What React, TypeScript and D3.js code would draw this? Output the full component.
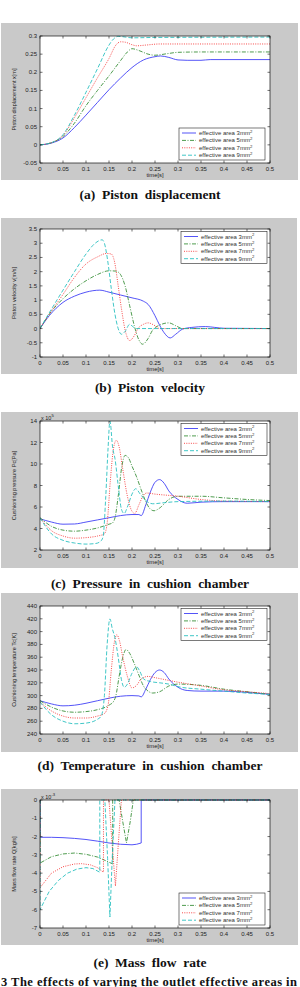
import * as d3 from 'd3';

type Pt = [number, number];

// legend keys: outlet effective area in mm^2
const areas = [3, 5, 7, 9];
const timeTicks = [0, 0.05, 0.1, 0.15, 0.2, 0.25, 0.3, 0.35, 0.4, 0.45, 0.5];

// (a) piston displacement x [m]
const dispTicks = [-0.05, 0, 0.05, 0.1, 0.15, 0.2, 0.25, 0.3];
const disp3: Pt[] = [[0, 0], [0.025, 0.005], [0.05, 0.019], [0.075, 0.048], [0.1, 0.082], [0.125, 0.117], [0.15, 0.152], [0.175, 0.184], [0.2, 0.213], [0.225, 0.234], [0.25, 0.243], [0.262, 0.245], [0.28, 0.241], [0.3, 0.234], [0.32, 0.233], [0.35, 0.233], [0.37, 0.235], [0.5, 0.235]];
const disp5: Pt[] = [[0, 0], [0.025, 0.006], [0.05, 0.023], [0.075, 0.06], [0.1, 0.108], [0.125, 0.15], [0.15, 0.19], [0.175, 0.232], [0.19, 0.256], [0.2, 0.265], [0.215, 0.26], [0.235, 0.25], [0.25, 0.247], [0.275, 0.251], [0.3, 0.255], [0.35, 0.256], [0.5, 0.256]];
const disp7: Pt[] = [[0, 0], [0.025, 0.006], [0.05, 0.026], [0.075, 0.075], [0.1, 0.13], [0.125, 0.185], [0.15, 0.238], [0.165, 0.275], [0.175, 0.284], [0.185, 0.283], [0.2, 0.276], [0.21, 0.273], [0.23, 0.275], [0.26, 0.278], [0.5, 0.278]];
const disp9: Pt[] = [[0, 0], [0.025, 0.006], [0.05, 0.028], [0.075, 0.082], [0.1, 0.145], [0.125, 0.21], [0.15, 0.275], [0.16, 0.292], [0.17, 0.299], [0.18, 0.298], [0.2, 0.295], [0.25, 0.296], [0.5, 0.297]];

// (b) piston velocity v [m/s]
const velTicks = [-1, -0.5, 0, 0.5, 1, 1.5, 2, 2.5, 3, 3.5];
const vel3: Pt[] = [[0, 0], [0.02, 0.45], [0.05, 0.92], [0.075, 1.14], [0.1, 1.28], [0.13, 1.35], [0.15, 1.28], [0.175, 1.18], [0.2, 1.08], [0.225, 0.96], [0.235, 0.85], [0.25, 0.45], [0.26, 0.12], [0.27, -0.15], [0.283, -0.33], [0.295, -0.2], [0.31, -0.02], [0.33, 0.04], [0.36, 0.07], [0.38, 0.04], [0.4, 0.01], [0.5, 0]];
const vel5: Pt[] = [[0, 0], [0.02, 0.5], [0.05, 1.05], [0.075, 1.4], [0.1, 1.68], [0.125, 1.9], [0.15, 2.03], [0.165, 2.02], [0.175, 1.9], [0.185, 1.5], [0.195, 0.8], [0.205, 0.1], [0.215, -0.4], [0.223, -0.55], [0.235, -0.35], [0.245, -0.05], [0.26, 0.12], [0.28, 0.2], [0.295, 0.1], [0.31, 0], [0.5, 0]];
const vel7: Pt[] = [[0, 0], [0.02, 0.5], [0.05, 1.2], [0.075, 1.8], [0.1, 2.27], [0.125, 2.52], [0.145, 2.64], [0.155, 2.62], [0.162, 2.35], [0.17, 1.5], [0.178, 0.6], [0.185, -0.05], [0.195, -0.42], [0.205, -0.25], [0.213, 0], [0.225, 0.15], [0.235, 0.2], [0.25, 0.1], [0.26, 0], [0.5, 0]];
const vel9: Pt[] = [[0, 0], [0.02, 0.55], [0.05, 1.35], [0.075, 2.0], [0.1, 2.62], [0.12, 3.0], [0.135, 3.12], [0.14, 3.0], [0.147, 2.4], [0.155, 1.4], [0.163, 0.5], [0.17, 0], [0.177, -0.2], [0.185, -0.1], [0.195, 0.15], [0.203, 0.05], [0.21, 0], [0.5, 0]];

// (c) cushion chamber pressure Pc [x 10^5 Pa]
const presTicks = [2, 4, 6, 8, 10, 12, 14];
const pres3: Pt[] = [[0, 4.9], [0.025, 4.6], [0.05, 4.4], [0.075, 4.42], [0.1, 4.6], [0.125, 4.8], [0.15, 5.0], [0.175, 5.2], [0.2, 5.3], [0.215, 5.3], [0.22, 5.2], [0.23, 6.2], [0.24, 7.4], [0.25, 8.3], [0.26, 8.55], [0.27, 8.2], [0.28, 7.5], [0.3, 6.7], [0.32, 6.35], [0.35, 6.45], [0.4, 6.5], [0.5, 6.5]];
const pres5: Pt[] = [[0, 5.0], [0.025, 4.2], [0.05, 3.85], [0.075, 3.75], [0.1, 3.85], [0.125, 4.05], [0.15, 4.4], [0.157, 4.5], [0.163, 5.0], [0.17, 7.0], [0.178, 9.8], [0.185, 10.8], [0.192, 10.6], [0.2, 9.8], [0.21, 8.8], [0.22, 7.6], [0.23, 6.5], [0.24, 5.8], [0.248, 5.65], [0.26, 5.9], [0.28, 6.7], [0.3, 7.0], [0.35, 7.0], [0.4, 6.85], [0.45, 6.7], [0.5, 6.6]];
const pres7: Pt[] = [[0, 5.0], [0.025, 3.8], [0.05, 3.3], [0.075, 3.1], [0.1, 3.15], [0.125, 3.3], [0.14, 3.5], [0.146, 4.5], [0.153, 8.5], [0.16, 11.5], [0.166, 12.2], [0.172, 11.6], [0.18, 9.5], [0.19, 7.0], [0.2, 5.6], [0.206, 5.4], [0.215, 6.2], [0.225, 7.1], [0.232, 7.3], [0.25, 7.2], [0.3, 7.0], [0.35, 6.7], [0.4, 6.55], [0.5, 6.5]];
const pres9: Pt[] = [[0, 5.0], [0.025, 3.5], [0.05, 2.9], [0.075, 2.65], [0.1, 2.55], [0.12, 2.6], [0.13, 2.75], [0.137, 3.2], [0.143, 7.0], [0.148, 11.5], [0.152, 14.0], [0.158, 11.5], [0.163, 10.5], [0.17, 8.0], [0.177, 5.8], [0.183, 5.4], [0.19, 6.0], [0.2, 7.2], [0.208, 7.7], [0.218, 7.2], [0.23, 6.6], [0.245, 6.3], [0.27, 6.4], [0.3, 6.5], [0.4, 6.55], [0.5, 6.5]];

// (d) cushion chamber temperature Tc [K]
const tempTicks = [240, 260, 280, 300, 320, 340, 360, 380, 400, 420, 440];
const temp3: Pt[] = [[0, 292], [0.025, 287], [0.05, 284], [0.075, 285], [0.1, 288], [0.125, 292], [0.15, 296], [0.175, 299], [0.2, 300], [0.215, 299.5], [0.22, 298], [0.23, 310], [0.24, 325], [0.25, 336], [0.26, 340], [0.27, 336], [0.28, 326], [0.3, 313], [0.32, 308], [0.35, 307], [0.4, 307], [0.45, 305], [0.5, 302]];
const temp5: Pt[] = [[0, 292], [0.025, 282], [0.05, 276], [0.075, 274], [0.1, 275], [0.125, 278], [0.15, 285], [0.16, 291], [0.165, 300], [0.172, 330], [0.18, 360], [0.187, 372], [0.195, 366], [0.205, 350], [0.215, 332], [0.225, 315], [0.235, 307], [0.245, 304], [0.26, 306], [0.28, 315], [0.3, 318], [0.35, 316], [0.4, 310], [0.45, 306], [0.5, 302]];
const temp7: Pt[] = [[0, 290], [0.025, 276], [0.05, 268], [0.075, 265], [0.1, 265], [0.125, 268], [0.14, 272], [0.148, 285], [0.155, 340], [0.162, 385], [0.167, 395], [0.173, 385], [0.18, 360], [0.19, 330], [0.2, 312], [0.21, 316], [0.22, 326], [0.235, 330], [0.25, 328], [0.3, 321], [0.35, 315], [0.4, 309], [0.45, 306], [0.5, 303]];
const temp9: Pt[] = [[0, 290], [0.025, 270], [0.05, 260], [0.075, 256], [0.1, 257], [0.125, 263], [0.133, 268], [0.14, 300], [0.146, 380], [0.152, 420], [0.157, 405], [0.163, 390], [0.17, 360], [0.177, 325], [0.183, 313], [0.19, 318], [0.2, 335], [0.21, 345], [0.217, 338], [0.225, 326], [0.24, 322], [0.26, 320], [0.28, 318], [0.3, 314], [0.35, 310], [0.4, 307], [0.45, 304], [0.5, 302]];

// (e) mass flow rate Q [x 10^-3 kg/s]
const flowTicks = [-7, -6, -5, -4, -3, -2, -1, 0];
const flow3: Pt[] = [[0, 0], [0, -2.04], [0.025, -2.04], [0.05, -2.06], [0.075, -2.1], [0.1, -2.16], [0.125, -2.25], [0.15, -2.35], [0.175, -2.42], [0.2, -2.45], [0.21, -2.42], [0.22, -2.35], [0.22, 0], [0.5, 0]];
const flow5: Pt[] = [[0, 0], [0, -3.45], [0.025, -3.1], [0.05, -2.95], [0.075, -2.9], [0.1, -2.97], [0.125, -3.12], [0.15, -3.4], [0.158, -3.5], [0.158, 0], [0.172, 0], [0.18, -1.2], [0.188, -2.35], [0.196, -1.2], [0.203, 0], [0.5, 0]];
const flow7: Pt[] = [[0, 0], [0, -4.8], [0.025, -4.0], [0.05, -3.65], [0.075, -3.5], [0.09, -3.48], [0.11, -3.55], [0.125, -3.7], [0.138, -3.95], [0.138, 0], [0.15, 0], [0.157, -2.5], [0.164, -4.7], [0.17, -2.5], [0.177, 0], [0.5, 0]];
const flow9: Pt[] = [[0, 0], [0, -6.0], [0.02, -5.0], [0.04, -4.4], [0.06, -4.0], [0.08, -3.78], [0.1, -3.7], [0.115, -3.75], [0.13, -3.95], [0.13, 0], [0.141, 0], [0.147, -3.2], [0.152, -6.4], [0.157, -3.2], [0.163, 0], [0.5, 0]];

const lineColors = ['#3535f5', '#2f8a2f', '#f52a2a', '#1fbdbd'];
const lineDash = ['none', '4,1.5,1,1.5', '1,1.3', '4,2'];

const W = 300;
const H = 987;
const tickFont = '"Liberation Sans", Arial, sans-serif';
const captionFont = '"Liberation Serif", "Times New Roman", serif';

interface Box { x0: number; x1: number; y0: number; y1: number }

interface PanelProps {
  id: string;
  frame: Box;
  plot: Box;
  yTicks: number[];
  series: Pt[][];
  yLabel: string;
  exponent?: string;
  legendAt: 'top' | 'bottom';
  curve: d3.CurveFactory;
}

function Panel({ id, frame, plot, yTicks, series, yLabel, exponent, legendAt, curve }: PanelProps) {
  const x = d3.scaleLinear().domain([0, 0.5]).range([plot.x0, plot.x1]);
  const y = d3
    .scaleLinear()
    .domain([yTicks[0], yTicks[yTicks.length - 1]])
    .range([plot.y1, plot.y0]);

  const line = d3
    .line<Pt>()
    .x((d) => x(d[0]))
    .y((d) => y(d[1]))
    .curve(curve);

  const tick = 2.5;
  const lg = legendAt === 'top'
    ? { x: plot.x1 - 89, y: plot.y0 + 2.5 }
    : { x: plot.x1 - 91, y: plot.y1 - 35 };
  const lgW = 86;
  const lgH = 32;
  const midY = (plot.y0 + plot.y1) / 2;

  return (
    <g>
      <defs>
        <clipPath id={`clip-${id}`}>
          <rect x={plot.x0} y={plot.y0 - 1} width={plot.x1 - plot.x0} height={plot.y1 - plot.y0 + 2} />
        </clipPath>
      </defs>
      <rect x={frame.x0} y={frame.y0} width={frame.x1 - frame.x0} height={frame.y1 - frame.y0} fill="#c9c9c9" />
      <rect x={plot.x0} y={plot.y0} width={plot.x1 - plot.x0} height={plot.y1 - plot.y0} fill="#ffffff" />

      <g clipPath={`url(#clip-${id})`}>
        {series.map((s, i) => (
          <path
            key={i}
            d={line(s) ?? ''}
            fill="none"
            stroke={lineColors[i]}
            strokeWidth={0.85}
            strokeDasharray={lineDash[i]}
          />
        ))}
      </g>

      <rect
        x={plot.x0}
        y={plot.y0}
        width={plot.x1 - plot.x0}
        height={plot.y1 - plot.y0}
        fill="none"
        stroke="#111"
        strokeWidth={0.7}
      />

      {/* ticks point inward on all four sides */}
      <g stroke="#111" strokeWidth={0.6}>
        {timeTicks.map((t) => (
          <g key={`xt${t}`}>
            <line x1={x(t)} x2={x(t)} y1={plot.y1} y2={plot.y1 - tick} />
            <line x1={x(t)} x2={x(t)} y1={plot.y0} y2={plot.y0 + tick} />
          </g>
        ))}
        {yTicks.map((v) => (
          <g key={`yt${v}`}>
            <line x1={plot.x0} x2={plot.x0 + tick} y1={y(v)} y2={y(v)} />
            <line x1={plot.x1} x2={plot.x1 - tick} y1={y(v)} y2={y(v)} />
          </g>
        ))}
      </g>

      <g fontFamily={tickFont} fontSize={6} fill="#222">
        {timeTicks.map((t) => (
          <text key={`xl${t}`} x={x(t)} y={plot.y1 + 7.5} textAnchor="middle">
            {String(t)}
          </text>
        ))}
        {yTicks.map((v) => (
          <text key={`yl${v}`} x={plot.x0 - 3} y={y(v) + 2} textAnchor="end">
            {String(v)}
          </text>
        ))}
        <text x={(plot.x0 + plot.x1) / 2} y={plot.y1 + 14} textAnchor="middle" fontSize={5.8}>
          time[s]
        </text>
        <text
          x={0}
          y={0}
          transform={`translate(16,${midY}) rotate(-90)`}
          textAnchor="middle"
          fontSize={5.6}
        >
          {yLabel}
        </text>
        {exponent && (
          <text x={plot.x0 + 1} y={plot.y0 - 1.5} fontSize={5.5}>
            x 10
            <tspan dy={-2.2} fontSize={4.2}>{exponent}</tspan>
          </text>
        )}
      </g>

      <g>
        <rect x={lg.x} y={lg.y} width={lgW} height={lgH} fill="#fff" stroke="#222" strokeWidth={0.6} />
        {areas.map((a, i) => {
          const ry = lg.y + 5 + i * 7.4;
          return (
            <g key={a}>
              <line
                x1={lg.x + 3}
                x2={lg.x + 17}
                y1={ry}
                y2={ry}
                stroke={lineColors[i]}
                strokeWidth={0.85}
                strokeDasharray={lineDash[i]}
              />
              <text x={lg.x + 20} y={ry + 2} fontFamily={tickFont} fontSize={6} fill="#333">
                {`effective area ${a}mm`}
                <tspan dy={-2.3} fontSize={4.3}>2</tspan>
              </text>
            </g>
          );
        })}
      </g>
    </g>
  );
}

const captions: [string, number][] = [
  ['(a)  Piston  displacement', 199],
  ['(b)  Piston  velocity', 392],
  ['(c)  Pressure  in  cushion  chamber', 588],
  ['(d)  Temperature  in  cushion  chamber', 770],
  ['(e)  Mass  flow  rate', 967],
];

export default function App() {
  const px0 = 40;
  const px1 = 270;
  return (
    <svg
      width={W}
      height={H}
      viewBox={`0 0 ${W} ${H}`}
      style={{ position: 'absolute', left: 0, top: 0, display: 'block', background: '#fff' }}
    >
      <Panel
        id="disp"
        frame={{ x0: 1, x1: 298, y0: 23, y1: 180 }}
        plot={{ x0: px0, x1: px1, y0: 36, y1: 163 }}
        yTicks={dispTicks}
        series={[disp3, disp5, disp7, disp9]}
        yLabel="Piston displacement x[m]"
        legendAt="bottom"
        curve={d3.curveMonotoneX}
      />
      <Panel
        id="vel"
        frame={{ x0: 1, x1: 297, y0: 218, y1: 374 }}
        plot={{ x0: px0, x1: px1, y0: 229, y1: 357 }}
        yTicks={velTicks}
        series={[vel3, vel5, vel7, vel9]}
        yLabel="Piston velocity v[m/s]"
        legendAt="top"
        curve={d3.curveMonotoneX}
      />
      <Panel
        id="pres"
        frame={{ x0: 1, x1: 298, y0: 412, y1: 568 }}
        plot={{ x0: px0, x1: px1, y0: 421, y1: 550 }}
        yTicks={presTicks}
        series={[pres3, pres5, pres7, pres9]}
        yLabel="Cushioning pressure Pc[Pa]"
        exponent="5"
        legendAt="top"
        curve={d3.curveMonotoneX}
      />
      <Panel
        id="temp"
        frame={{ x0: 1, x1: 298, y0: 593, y1: 752 }}
        plot={{ x0: px0, x1: px1, y0: 606, y1: 734 }}
        yTicks={tempTicks}
        series={[temp3, temp5, temp7, temp9]}
        yLabel="Cushioning temperature Tc[K]"
        legendAt="top"
        curve={d3.curveMonotoneX}
      />
      <Panel
        id="flow"
        frame={{ x0: 1, x1: 298, y0: 789, y1: 945 }}
        plot={{ x0: px0, x1: px1, y0: 800, y1: 928 }}
        yTicks={flowTicks}
        series={[flow3, flow5, flow7, flow9]}
        yLabel="Mass flow rate Q[kg/s]"
        exponent="-3"
        legendAt="bottom"
        curve={d3.curveLinear}
      />

      <g fontFamily={captionFont} fontWeight="bold" fontSize={13.5} fill="#111">
        {captions.map(([t, yb]) => (
          <text key={t} x={150} y={yb} textAnchor="middle" xmlSpace="preserve" style={{ whiteSpace: 'pre' }}>
            {t}
          </text>
        ))}
        <text x={1} y={986} fontSize={12.5} textLength={296} lengthAdjust="spacing">
          3 The effects of varying the outlet effective areas in
        </text>
      </g>
    </svg>
  );
}
